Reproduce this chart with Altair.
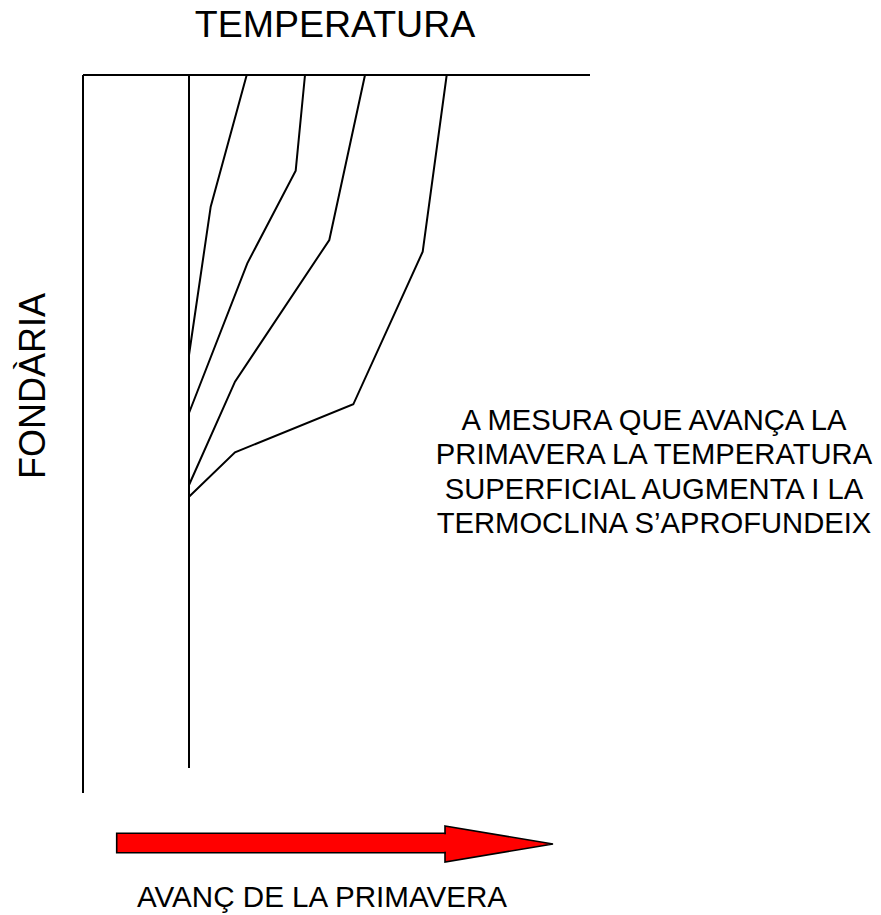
import altair as alt
import pandas as pd

# ---------------- data (temperature = x units, depth = y units) ----------------
profile_names = ["Perfil 1", "Perfil 2", "Perfil 3", "Perfil 4"]
profile_temp = [
    [238.7, 202.7, 181.0],
    [297.0, 287.7, 239.3, 181.0],
    [357.0, 321.3, 227.0, 181.0],
    [438.7, 414.7, 345.3, 227.0, 181.0],
]
profile_depth = [
    [67.0, 198.7, 347.0],
    [67.0, 162.7, 255.3, 405.0],
    [67.0, 232.0, 373.7, 477.0],
    [67.0, 243.7, 396.3, 444.3, 488.7],
]

# frame: surface line, depth axis line, deep isothermal line
frame_temp = [75.0, 582.0]
frame_depth = [67.0, 785.0]
deep_temp = 181.0
deep_depth = [67.0, 760.0]

# arrow (advance of spring)
arrow_x = [108.7, 437.0, 545.0]
arrow_y_top = [825.3, 818.0, 836.0]
arrow_y_bot = [844.7, 854.0, 836.0]

title_text = "TEMPERATURA"
depth_text = "FONDÀRIA"
note_lines = [
    "A MESURA QUE AVANÇA LA",
    "PRIMAVERA LA TEMPERATURA",
    "SUPERFICIAL AUGMENTA I LA",
    "TERMOCLINA S\u2019APROFUNDEIX",
]
arrow_text = "AVANÇ DE LA PRIMAVERA"

FONT = "Liberation Sans"

# ---------------- tables ----------------
rows = []
for name, ts, ds in zip(profile_names, profile_temp, profile_depth):
    for i, (t, d) in enumerate(zip(ts, ds)):
        rows.append({"perfil": name, "i": i, "temp": t, "depth": d})
prof_df = pd.DataFrame(rows)

frame_df = pd.DataFrame({
    "seg": ["surface", "axis", "deep"],
    "x": [frame_temp[0], frame_temp[0], deep_temp],
    "x2": [frame_temp[1], frame_temp[0], deep_temp],
    "y": [frame_depth[0], frame_depth[0], deep_depth[0]],
    "y2": [frame_depth[0], frame_depth[1], deep_depth[1]],
})

shaft_df = pd.DataFrame({"x": [arrow_x[0]], "x2": [arrow_x[1]],
                         "y": [arrow_y_top[0]], "y2": [arrow_y_bot[0]]})
head_df = pd.DataFrame({"x": arrow_x[1:], "y": arrow_y_top[1:], "y2": arrow_y_bot[1:]})
seam_df = pd.DataFrame({"x": [arrow_x[1] - 2.5], "x2": [arrow_x[1] + 2.5],
                        "y": [arrow_y_top[0] + 1.0], "y2": [arrow_y_bot[0] - 1.0]})

one = pd.DataFrame({"a": [0]})

xs = alt.Scale(domain=[0, 865], range=[0, 865], nice=False, zero=False)
ys = alt.Scale(domain=[0, 899], range=[0, 899], nice=False, zero=False)

frame = alt.Chart(frame_df).mark_rule(color="black", strokeWidth=2).encode(
    x=alt.X("x:Q", scale=xs, axis=None),
    x2="x2:Q",
    y=alt.Y("y:Q", scale=ys, axis=None),
    y2="y2:Q",
)

profiles = alt.Chart(prof_df).mark_line(color="black", strokeWidth=2).encode(
    x=alt.X("temp:Q", scale=xs, axis=None),
    y=alt.Y("depth:Q", scale=ys, axis=None),
    detail="perfil:N",
    order="i:Q",
)

head = alt.Chart(head_df).mark_area(
    color="#ff0000", fill="#ff0000", stroke="black", strokeWidth=1.6, orient="vertical"
).encode(
    x=alt.X("x:Q", scale=xs, axis=None),
    y=alt.Y("y:Q", scale=ys, axis=None),
    y2="y2:Q",
)

shaft = alt.Chart(shaft_df).mark_rect(fill="#ff0000", stroke="black", strokeWidth=1.6).encode(
    x=alt.X("x:Q", scale=xs, axis=None), x2="x2:Q",
    y=alt.Y("y:Q", scale=ys, axis=None), y2="y2:Q",
)

seam = alt.Chart(seam_df).mark_rect(fill="#ff0000", strokeWidth=0).encode(
    x=alt.X("x:Q", scale=xs, axis=None), x2="x2:Q",
    y=alt.Y("y:Q", scale=ys, axis=None), y2="y2:Q",
)

title = alt.Chart(one).mark_text(
    text=title_text, font=FONT, fontSize=37.5, align="center", baseline="alphabetic", color="black"
).encode(x=alt.X(datum=327, scale=xs, axis=None), y=alt.Y(datum=29, scale=ys, axis=None))

depth_label = alt.Chart(one).mark_text(
    text=depth_text, font=FONT, fontSize=36, angle=270, align="center",
    baseline="alphabetic", color="black"
).encode(x=alt.X(datum=37, scale=xs, axis=None), y=alt.Y(datum=378, scale=ys, axis=None))

note = alt.Chart(one).mark_text(
    text=note_lines, font=FONT, fontSize=29.2, lineHeight=34.3, align="center",
    baseline="alphabetic", color="black"
).encode(x=alt.X(datum=646, scale=xs, axis=None), y=alt.Y(datum=422, scale=ys, axis=None))

arrow_label = alt.Chart(one).mark_text(
    text=arrow_text, font=FONT, fontSize=29.6, align="center", baseline="alphabetic", color="black"
).encode(x=alt.X(datum=314, scale=xs, axis=None), y=alt.Y(datum=899, scale=ys, axis=None))

chart = alt.layer(
    frame, profiles, head, shaft, seam, title, depth_label, note, arrow_label
).properties(
    width=865, height=905, padding=0, autosize="none"
).configure_view(strokeWidth=0)

chart.save("out.html", embed_options={"renderer": "svg", "actions": False})
